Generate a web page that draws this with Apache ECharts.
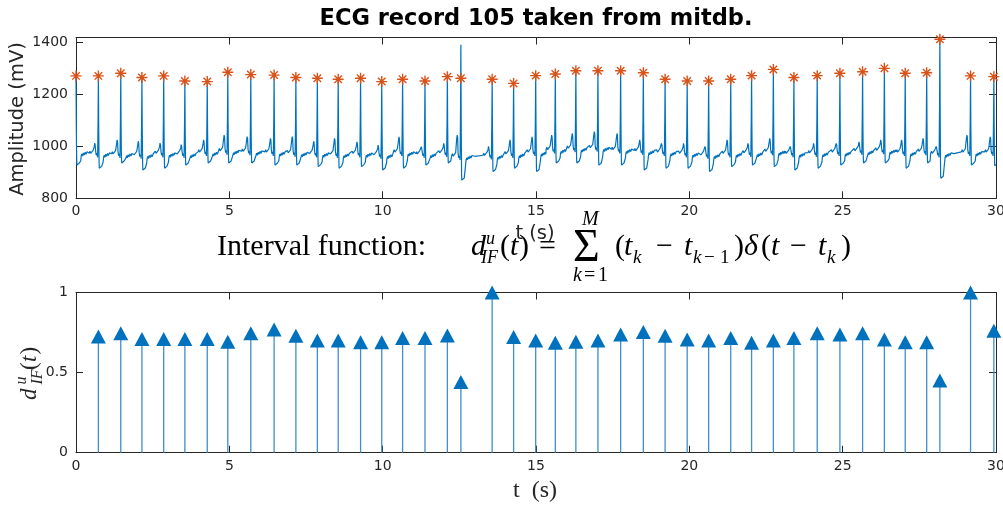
<!DOCTYPE html>
<html><head><meta charset="utf-8">
<script src="https://cdn.jsdelivr.net/npm/echarts@6/dist/echarts.min.js"></script>
<style>html,body{margin:0;padding:0;background:#fff}#c{width:1003px;height:505px}</style>
</head><body><div id="c"></div>
<script>
// ---------------- data ----------------
// R-peak times (s) detected on record 105
const peakTimes = [0.00,0.73,1.46,2.15,2.86,3.55,4.28,4.95,5.70,6.46,7.17,7.87,8.55,9.28,9.97,10.65,11.38,12.11,12.55,13.57,
  14.27,14.99,15.63,16.30,17.02,17.76,18.50,19.21,19.93,20.63,21.35,22.03,22.74,23.41,24.17,24.91,25.65,26.36,27.04,27.74,
  28.17,29.17,29.93];
// amplitude (mV) of the orange asterisk markers
const peakMarks = [1272,1272,1282,1266,1272,1252,1250,1286,1277,1275,1266,1263,1259,1263,1250,1259,1252,1269,1263,1259,
  1243,1273,1279,1292,1292,1292,1284,1259,1252,1252,1259,1273,1297,1266,1273,1282,1288,1301,1282,1284,
  1413,1272,1269];
// top of each R spike on the ECG trace (mV)
const spikeTops = [1272,1272,1282,1266,1272,1252,1250,1286,1277,1275,1266,1263,1259,1263,1250,1259,1252,1269,1392,1259,
  1243,1273,1279,1292,1292,1292,1284,1259,1252,1252,1259,1273,1297,1266,1273,1282,1288,1301,1282,1284,
  1415,1272,1269];
// plateau level between beats (mV)
const beatBase = [975,970,968,965,970,968,975,980,978,975,972,970,968,970,965,975,968,972,960,962,
  968,975,985,990,992,985,980,975,970,965,970,972,978,970,972,975,980,982,975,978,
  970,975,975];
// top of the small wave just before each R (mV)
const beatBump = [1000,1013,1025,1020,1013,1007,1025,1044,1038,1031,1038,1020,1031,1018,1005,1037,999,1012,1044,1000,
  1025,1037,1044,1050,1057,1050,1025,1012,1012,1000,1025,1012,1031,1000,1012,1012,1018,1025,1025,1031,
  1000,1044,1037];
// depth of the S dip after each R (mV)
const beatSDip = [928,916,936,909,916,928,936,936,936,928,928,922,916,922,909,916,928,936,870,903,
  916,903,936,936,928,928,909,916,916,903,922,928,922,909,916,928,936,936,916,936,
  877,928,925];
// shape of one beat: [seconds from R, reference (b base / p bump / s dip), offset mV]
const preShape = [[-0.30,'b',4],[-0.275,'b',12],[-0.25,'b',3],[-0.22,'b',10],[-0.195,'b',6],[-0.17,'b',16],[-0.15,'b',12],
  [-0.135,'p',-14],[-0.12,'p',0],[-0.105,'p',-8],[-0.09,'b',12],[-0.07,'b',-4],[-0.045,'b',4],[-0.025,'b',-12]];
const postShape = [[0.018,'b',15],[0.024,'s',18],[0.03,'s',0],[0.06,'s',6],[0.085,'s',-2],[0.11,'s',8],[0.14,'s',3],
  [0.155,'b',-30],[0.17,'b',-12],[0.19,'b',-4],[0.215,'b',-12],[0.24,'b',0],[0.27,'b',-8],[0.30,'b',3],[0.33,'b',-5],
  [0.36,'b',5],[0.39,'b',-2],[0.42,'b',8],[0.46,'b',2]];

// interval function: stem heights (s) at peakTimes[1..]
const intervalValues = [0.726,0.745,0.71,0.71,0.71,0.71,0.692,0.745,0.769,0.73,0.70,
  0.70,0.69,0.69,0.716,0.716,0.732,0.442,1.0,
  0.723,0.70,0.686,0.692,0.70,0.738,0.754,0.73,
  0.707,0.70,0.716,0.686,0.70,0.716,0.746,0.738,0.746,0.707,0.69,0.69,0.451,1.0,0.762];

const xTicks = [0,5,10,15,20,25,30];
const ecgTicks = [800,1000,1200,1400];
const ifTicks = [0,0.5,1];

// ---------------- build series ----------------
function ecgPoints(){
  const pts = [];
  const n = peakTimes.length;
  for (let i=0;i<n;i++){
    const t = peakTimes[i], b = beatBase[i], top = spikeTops[i];
    const ref = {b:b, p:beatBump[i], s:beatSDip[i]};
    for (const [dt,r,off] of preShape){
      const tt = t+dt;
      if (tt >= 0 && (i===0 || tt > peakTimes[i-1]+0.03)) pts.push([tt, ref[r]+off]);
    }
    if (t-0.01 >= 0) pts.push([t-0.01, b+0.45*(top-b)]);
    pts.push([t, top]);
    pts.push([t+0.01, b+0.35*(top-b)]);
    const limit = i<n-1 ? peakTimes[i+1]-0.30 : 30;
    for (const [dt,r,off] of postShape){
      const tt = t+dt;
      if (tt < limit && tt <= 30) pts.push([tt, ref[r]+off]);
    }
  }
  return pts;
}
const ecgData = ecgPoints();
const markData = peakTimes.map((t,i)=>[t, peakMarks[i]]);
const stemData = intervalValues.map((v,i)=>[peakTimes[i+1], v]);

// ---------------- styling ----------------
const AX = '#262626';
const tickFont = 'DejaVu Sans';
const plain = v => String(v);
function xAx(grid, pos, labels, margin){
  return {type:'value', gridIndex:grid, position:pos, min:0, max:30, interval:5,
    axisLine:{show:true, onZero:false, lineStyle:{color:AX, width:1}},
    axisTick:{show:true, inside:true, length:7, customValues:xTicks, lineStyle:{color:AX, width:1}},
    axisLabel:{show:labels, customValues:xTicks, formatter:plain, color:AX, fontSize:14, fontFamily:tickFont, margin:margin, showMinLabel:true, showMaxLabel:true},
    splitLine:{show:false}};
}
function yAx(grid, pos, labels, min, max, ticks, interval){
  return {type:'value', gridIndex:grid, position:pos, min:min, max:max, interval:interval,
    axisLine:{show:true, onZero:false, lineStyle:{color:AX, width:1}},
    axisTick:{show:true, inside:true, length:7, customValues:ticks, lineStyle:{color:AX, width:1}},
    axisLabel:{show:labels, customValues:ticks, formatter:plain, color:AX, fontSize:14, fontFamily:tickFont, margin:8, showMinLabel:true, showMaxLabel:true},
    splitLine:{show:false}};
}

// formula pieces of the lower title: [text, left x, middle y, size, italic]
const S = '"Liberation Serif"';
const formula = [
  ['Interval function:',217,247,30,false],
  ['d',471,247,30,true],['u',486,239,18,true],['IF',481,258,18,true],
  ['(',500,247,30,false],['t',510,247,30,true],[')',519,247,30,false],
  ['=',539,247,30,false],
  ['\u03A3',573,249,46,false],['M',582,220,20,true],
  ['k',573,276,20,true],['=',584,276,20,false],['1',598,276,20,false],
  ['(',615,247,30,false],['t',624,247,30,true],['k',633,258,19,true],
  ['\u2212',656,247,30,false],
  ['t',684,247,30,true],['k',693,258,19,true],['\u2212',704,258,19,false],['1',720,258,19,false],
  [')',734,247,30,false],['\u03B4',744,247,30,true],['(',761,247,30,false],['t',771,247,30,true],
  ['\u2212',790,247,30,false],['t',818,247,30,true],['k',827,258,19,true],[')',841,247,30,false]
];
const graphics = formula.map(([txt,x,y,sz,it])=>({type:'text', x:x, y:y, silent:true,
  style:{text:txt, font:(it?'italic ':'')+sz+'px '+S, fill:'#000', align:'left', textAlign:'left', verticalAlign:'middle', textVerticalAlign:'middle'}}));

graphics.push({type:'text', x:536, y:19.5, silent:true,
  style:{text:'ECG record 105 taken from mitdb.', font:'bold 22.5px "DejaVu Sans"', fill:'#000', align:'center', textAlign:'center', verticalAlign:'middle', textVerticalAlign:'middle'}});
graphics.push({type:'text', x:18, y:119, rotation:Math.PI/2, silent:true,
  style:{text:'Amplitude (mV)', font:'19.5px "DejaVu Sans"', fill:AX, align:'center', textAlign:'center', verticalAlign:'middle', textVerticalAlign:'middle'}});
graphics.push({type:'text', x:535, y:234, silent:true,
  style:{text:'t (s)', font:'19.5px "DejaVu Sans"', fill:AX, align:'center', textAlign:'center', verticalAlign:'middle', textVerticalAlign:'middle'}});
graphics.push({type:'text', x:535, y:491, silent:true,
  style:{text:'t  (s)', font:'24px '+S, fill:AX, align:'center', textAlign:'center', verticalAlign:'middle', textVerticalAlign:'middle'}});
// rotated y label of the lower panel
const ylab = [['d',-28.5,0,23,true],['u',-13,-8,16,true],['IF',-13,8,16,true],['(',1.5,0,23,false],['t',9.5,0,23,true],[')',17,0,23,false]];
graphics.push({type:'group', x:30, y:371.5, rotation:Math.PI/2, silent:true,
  children: ylab.map(([txt,x,y,sz,it])=>({type:'text', x:x, y:y,
    style:{text:txt, font:(it?'italic ':'')+sz+'px '+S, fill:AX, align:'left', textAlign:'left', verticalAlign:'middle', textVerticalAlign:'middle'}}))});

const option = {
  backgroundColor:'#ffffff',
  animation:false,
  grid:[
    {left:76, right:7, top:37.5, height:160.8, outerBoundsMode:'none', containLabel:false},
    {left:76, right:7, top:292.5, height:160.2, outerBoundsMode:'none', containLabel:false}
  ],
  xAxis:[xAx(0,'bottom',true,6.5), xAx(0,'top',false,6), xAx(1,'bottom',true,6.8), xAx(1,'top',false,6)],
  yAxis:[yAx(0,'left',true,800,1420,ecgTicks,200), yAx(0,'right',false,800,1420,ecgTicks,200),
         yAx(1,'left',true,0,1,ifTicks,0.5), yAx(1,'right',false,0,1,ifTicks,0.5)],
  series:[
    {type:'line', xAxisIndex:0, yAxisIndex:0, data:ecgData, showSymbol:false, symbol:'none', sampling:null,
      lineStyle:{color:'#0072BD', width:1.2, opacity:1}, itemStyle:{color:'#0072BD'}, z:2},
    {type:'scatter', xAxisIndex:0, yAxisIndex:0, data:markData, clip:false,
      symbol:'path://M5,0L5,10M0,5L10,5M1.6,1.6L8.4,8.4M1.6,8.4L8.4,1.6', symbolSize:11,
      itemStyle:{color:'rgba(0,0,0,0)', borderColor:'#D95319', borderWidth:1.4, opacity:1}, z:3},
    {type:'custom', xAxisIndex:2, yAxisIndex:2, data:stemData, clip:false,
      renderItem:function(params, api){
        const p0 = api.coord([api.value(0), 0]);
        const p1 = api.coord([api.value(0), api.value(1)]);
        return {type:'line', shape:{x1:p0[0], y1:p0[1], x2:p1[0], y2:p1[1]}, style:{stroke:'#3d8fd0', lineWidth:1.3}};
      }, z:2},
    {type:'scatter', xAxisIndex:2, yAxisIndex:2, data:stemData, clip:false,
      symbol:'triangle', symbolSize:[15,14], itemStyle:{color:'#0072BD', opacity:1}, z:3}
  ],
  graphic:{elements:graphics}
};
const chart = echarts.init(document.getElementById('c'), null, {renderer:'canvas'});
chart.setOption(option);
</script></body></html>
